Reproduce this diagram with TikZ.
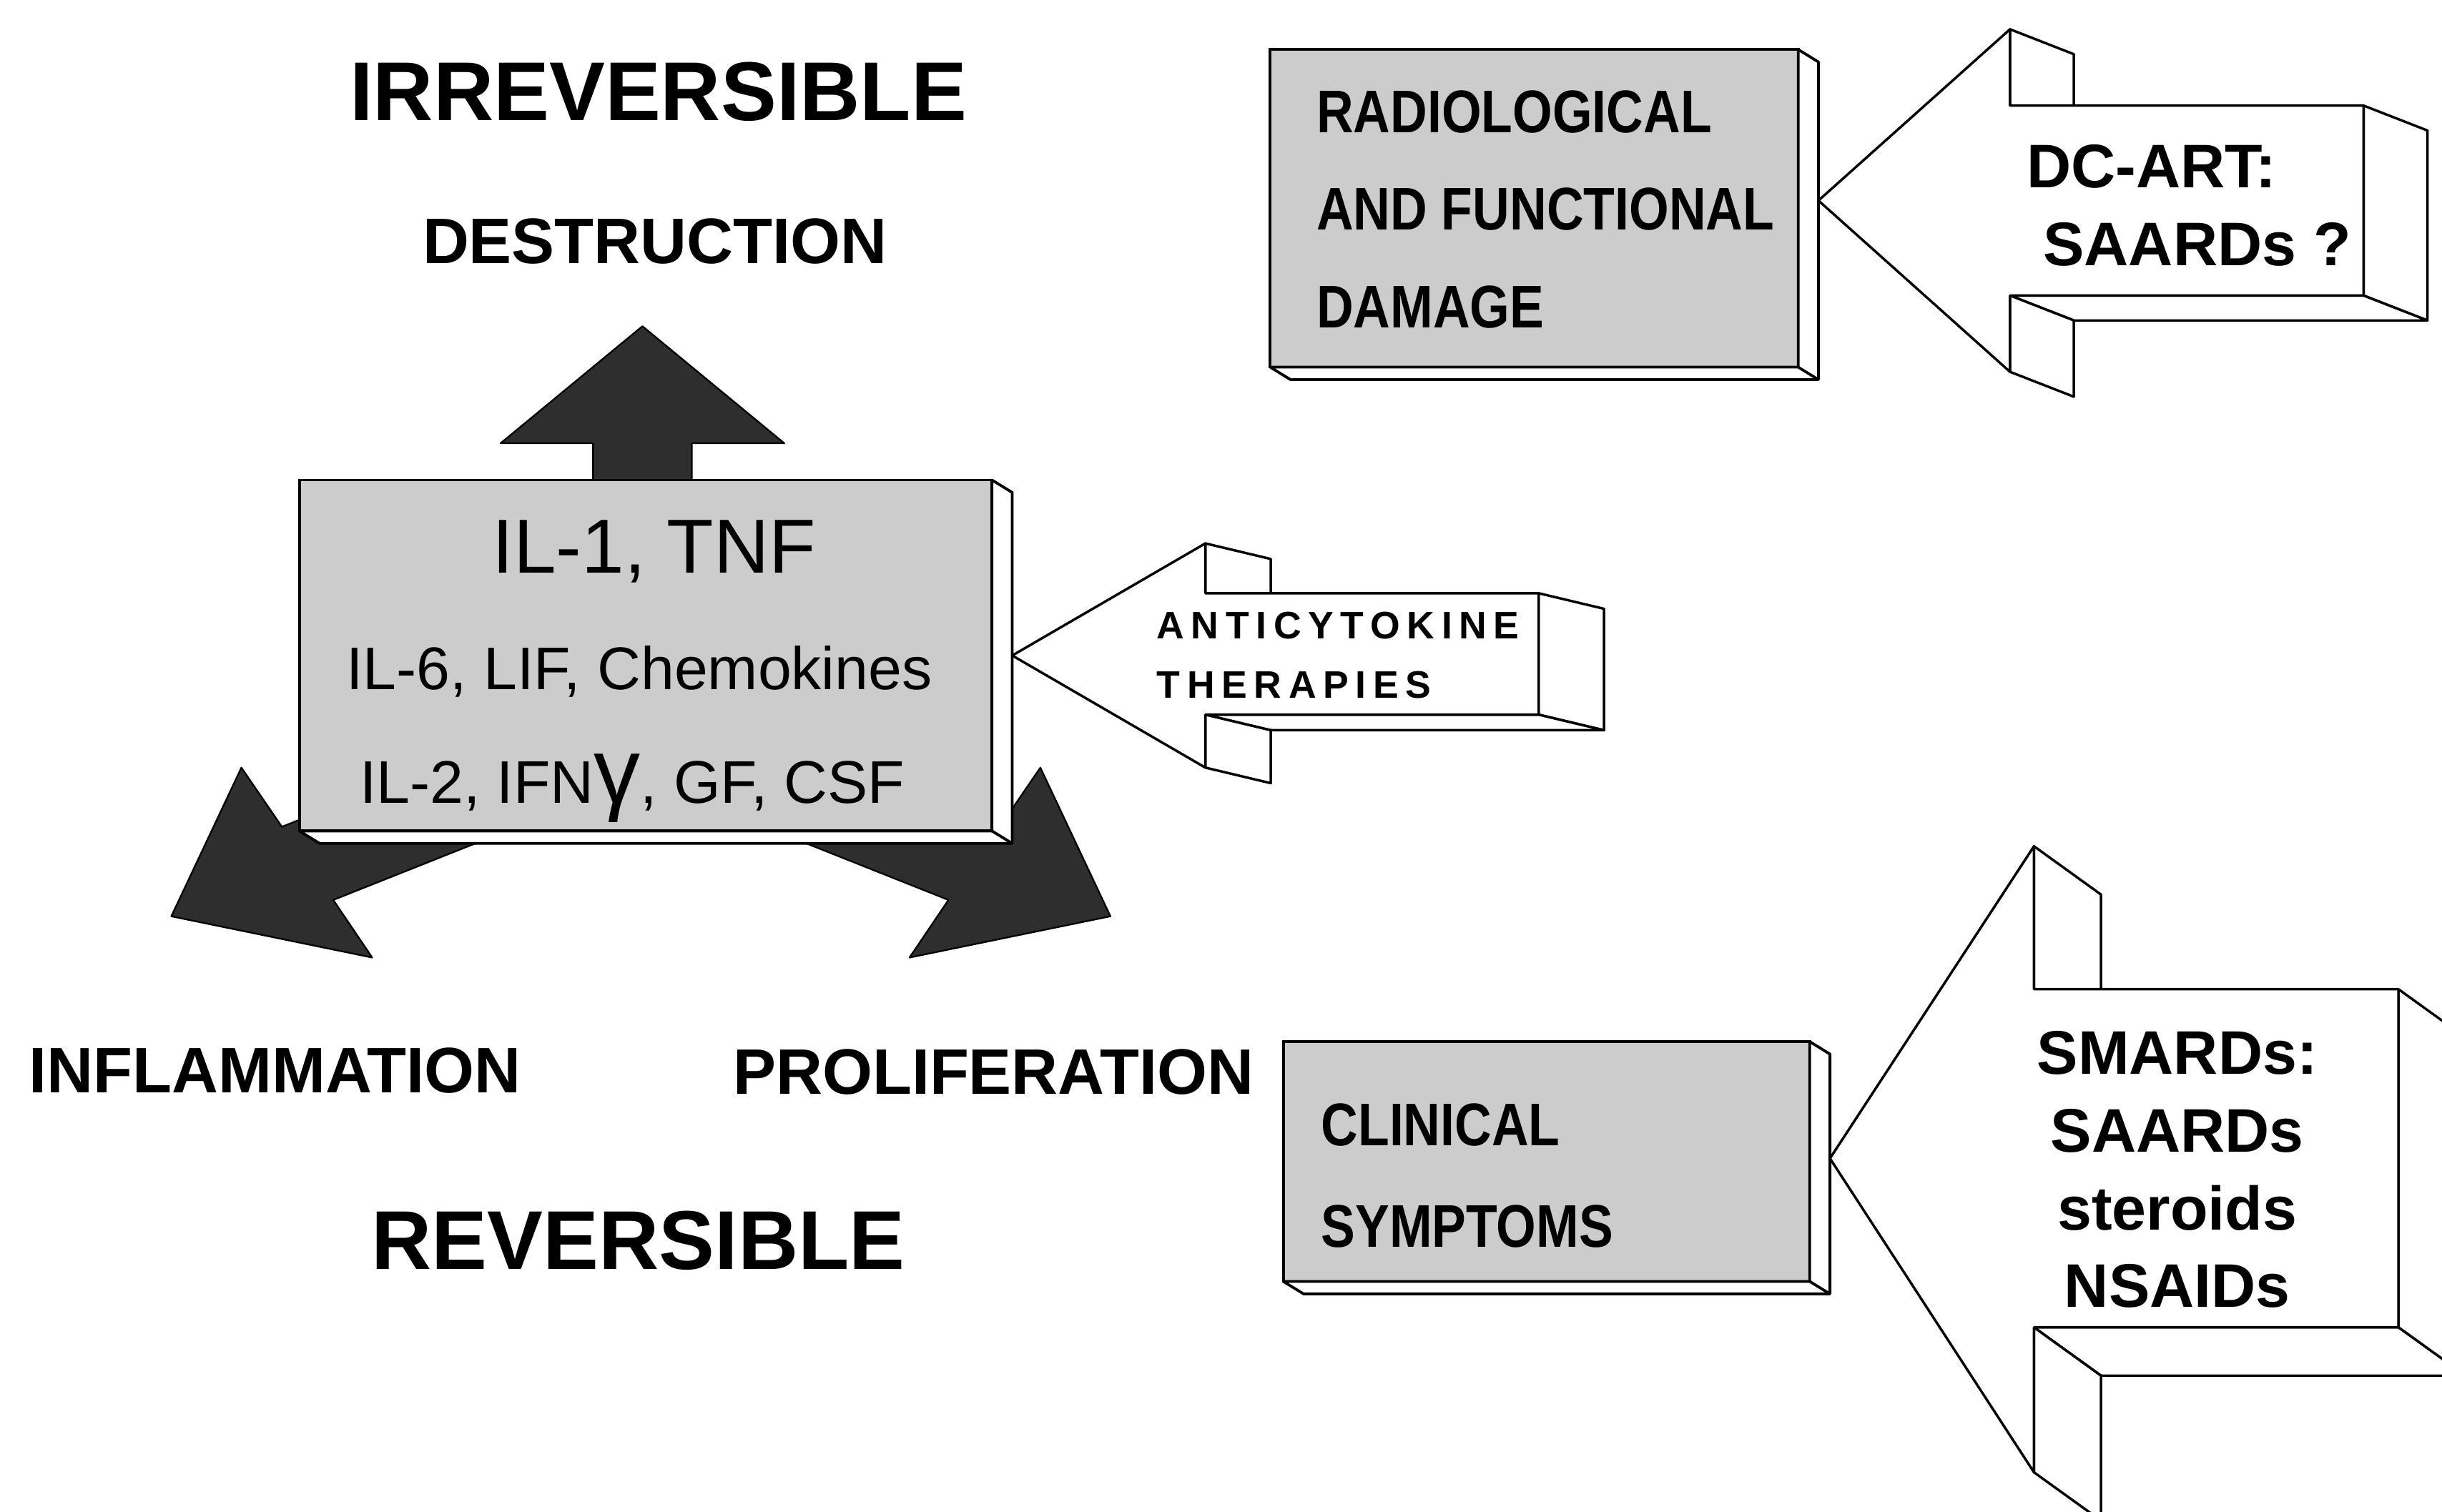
\documentclass[tikz,border=0pt]{standalone}
\usepackage{fontspec}
\setmainfont{Liberation Sans}
\newfontfamily\condfont[FakeStretch=0.85]{Liberation Sans}
\newfontfamily\spacedfont[LetterSpace=18]{Liberation Sans}
\usepackage{tikz}
\usetikzlibrary{positioning}
\usetikzlibrary{calc}

\begin{document}
\begin{tikzpicture}[x=0.2mm, y=-0.2mm]
    % \draw (0,0) grid (1568,971);

  \def\dx{13}
  \def\dy{8}
  \tikzset{box front/.style={draw, line width=1pt, fill=black!20, outer sep=0pt, inner sep=0pt}}
  \tikzset{box side/.style={draw, line width=1pt, fill=white, line join=round}}
  \tikzset{dark arrow/.style={draw, line width=0.6pt, fill=black!82, line join=round}}
  \tikzset{block arrow/.style={draw, line width=0.9pt, fill=white, line join=round}}
  \tikzset{title text/.style={anchor=base, inner sep=0pt, font=\bfseries\fontsize{30.5}{36}\selectfont}}
  \tikzset{label text/.style={anchor=base, inner sep=0pt, font=\bfseries\fontsize{23.5}{28}\selectfont}}
  \tikzset{cyto text/.style={anchor=base, inner sep=0pt, font=\fontsize{22}{26}\selectfont}}
  \tikzset{box text/.style={anchor=north west, inner sep=0pt, align=left, font=\condfont\bfseries\fontsize{22}{35.6}\selectfont}}
  \tikzset{drug text/.style={inner sep=0pt, font=\bfseries\fontsize{22.5}{28.4}\selectfont}}

  \useasboundingbox (0,0) rectangle (1568,971);
  \clip (0,0) rectangle (1568,971);

  % left column labels
  \node[title text] (irrev) at (422.7,77.3) {IRREVERSIBLE};
  \node[label text] (destr) at (420.5,169) {DESTRUCTION};
  \node[label text] (infl) at (176.6,701.7) {INFLAMMATION};
  \node[label text] (prolif) at (637.8,702.5) {PROLIFERATION};
  \node[title text] (rev) at (409.8,815) {REVERSIBLE};

  % dark arrows, they go under the box
  \draw[dark arrow] (380.8,335) -- (380.8,284.7) -- (321.4,284.7) -- (412.5,209.5)
    -- (503.6,284.7) -- (444.2,284.7) -- (444.2,335) -- cycle;
  \draw[dark arrow] (400,504) -- (214,578) -- (239,615) -- (110,588.5) -- (155,493)
    -- (181,531) -- (367,457) -- cycle;
  \draw[dark arrow] (423,504) -- (609,578) -- (584,615) -- (713,588.5) -- (668,493)
    -- (642,531) -- (456,457) -- cycle;

  % cytokine box
  \node[box front, minimum width=8.894cm, minimum height=4.508cm] (cyto) at (414.6,421) {};
  \draw[box side] (cyto.north east) -- ++(\dx,\dy) -- ($(cyto.south east)+(\dx,\dy)$)
    -- ($(cyto.south west)+(\dx,\dy)$) -- (cyto.south west) -- (cyto.south east) -- cycle;
  \draw[line width=1pt] (cyto.south east) -- ++(\dx,\dy);
  \node[cyto text, font=\fontsize{28}{32}\selectfont] (il1) at ($(cyto.center)+(5.4,-53)$) {IL-1, TNF};
  \node[cyto text] (il6) at ($(cyto.center)+(-4.1,22)$) {IL-6, LIF, Chemokines};
  \node[cyto text] (il2) at ($(cyto.center)+(-8.6,94.7)$) {IL-2, IFN{\fontsize{34}{34}\selectfont γ}, GF, CSF};

  % damage box
  \node[box front, minimum width=6.78cm, minimum height=4.08cm] (damage) at (985.1,133.8) {};
  \draw[box side] (damage.north east) -- ++(\dx,\dy) -- ($(damage.south east)+(\dx,\dy)$)
    -- ($(damage.south west)+(\dx,\dy)$) -- (damage.south west) -- (damage.south east) -- cycle;
  \draw[line width=1pt] (damage.south east) -- ++(\dx,\dy);
  \node[box text] (damage text) at ($(damage.north west)+(29.4,26.1)$) {RADIOLOGICAL\\AND FUNCTIONAL\\DAMAGE};

  % symptoms box
  \node[box front, minimum width=6.76cm, minimum height=3.08cm] (symptoms) at (993,746) {};
  \draw[box side] (symptoms.north east) -- ++(\dx,\dy) -- ($(symptoms.south east)+(\dx,\dy)$)
    -- ($(symptoms.south west)+(\dx,\dy)$) -- (symptoms.south west) -- (symptoms.south east) -- cycle;
  \draw[line width=1pt] (symptoms.south east) -- ++(\dx,\dy);
  \node[box text, font=\condfont\bfseries\fontsize{22}{36.9}\selectfont] (symptoms text)
    at ($(symptoms.north west)+(24,39.6)$) {CLINICAL\\SYMPTOMS};

  % anticytokine arrow
  \coordinate (a tip) at ($(cyto.east)+(\dx,0)$);
  \coordinate (a ht) at ($(a tip)+(124,-72)$);
  \coordinate (a st) at ($(a tip)+(124,-40)$);
  \coordinate (a str) at ($(a tip)+(338,-40)$);
  \coordinate (a sbr) at ($(a tip)+(338,38)$);
  \coordinate (a sb) at ($(a tip)+(124,38)$);
  \coordinate (a hb) at ($(a tip)+(124,72)$);
  \draw[block arrow] (a str) -- ++(42,10) -- ($(a sbr)+(42,10)$) -- (a sbr) -- cycle;
  \draw[block arrow] (a sb) -- (a sbr) -- ++(42,10) -- ($(a sb)+(42,10)$) -- cycle;
  \draw[block arrow] (a sb) -- (a hb) -- ++(42,10) -- ($(a sb)+(42,10)$) -- cycle;
  \draw[block arrow] (a ht) -- ++(42,10) -- ($(a st)+(42,10)$) -- (a st) -- cycle;
  \draw[block arrow] (a tip) -- (a ht) -- (a st) -- (a str) -- (a sbr) -- (a sb) -- (a hb) -- cycle;
  \node[anchor=north west, inner sep=0pt, align=left, font=\spacedfont\bfseries\fontsize{14}{21.7}\selectfont]
    (anti text) at (742.4,392.6) {ANTICYTOKINE\\THERAPIES};

  % DC-ART arrow
  \coordinate (d tip) at ($(damage.east)+(\dx,-5)$);
  \coordinate (d ht) at ($(d tip)+(123,-110)$);
  \coordinate (d st) at ($(d tip)+(123,-61)$);
  \coordinate (d str) at ($(d tip)+(350,-61)$);
  \coordinate (d sbr) at ($(d tip)+(350,61)$);
  \coordinate (d sb) at ($(d tip)+(123,61)$);
  \coordinate (d hb) at ($(d tip)+(123,110)$);
  \draw[block arrow] (d str) -- ++(41,16) -- ($(d sbr)+(41,16)$) -- (d sbr) -- cycle;
  \draw[block arrow] (d sb) -- (d sbr) -- ++(41,16) -- ($(d sb)+(41,16)$) -- cycle;
  \draw[block arrow] (d sb) -- (d hb) -- ++(41,16) -- ($(d sb)+(41,16)$) -- cycle;
  \draw[block arrow] (d ht) -- ++(41,16) -- ($(d st)+(41,16)$) -- (d st) -- cycle;
  \draw[block arrow] (d tip) -- (d ht) -- (d st) -- (d str) -- (d sbr) -- (d sb) -- (d hb) -- cycle;
  \node[drug text, anchor=north west, align=left] (dcart text) at (1301,92.7) {DC-ART:\\\hspace*{6pt}SAARDs ?};

  % SMARDs arrow
  \coordinate (s tip) at ($(symptoms.east)+(\dx,-2)$);
  \coordinate (s ht) at ($(s tip)+(131,-200.5)$);
  \coordinate (s st) at ($(s tip)+(131,-108.7)$);
  \coordinate (s str) at ($(s tip)+(365,-108.7)$);
  \coordinate (s sbr) at ($(s tip)+(365,108.5)$);
  \coordinate (s sb) at ($(s tip)+(131,108.5)$);
  \coordinate (s hb) at ($(s tip)+(131,201.6)$);
  \draw[block arrow] (s str) -- ++(43,31) -- ($(s sbr)+(43,31)$) -- (s sbr) -- cycle;
  \draw[block arrow] (s sb) -- (s sbr) -- ++(43,31) -- ($(s sb)+(43,31)$) -- cycle;
  \draw[block arrow] (s sb) -- (s hb) -- ++(43,31) -- ($(s sb)+(43,31)$) -- cycle;
  \draw[block arrow] (s ht) -- ++(43,31) -- ($(s st)+(43,31)$) -- (s st) -- cycle;
  \draw[block arrow] (s tip) -- (s ht) -- (s st) -- (s str) -- (s sbr) -- (s sb) -- (s hb) -- cycle;
  \node[drug text, anchor=north, align=center] (smards text) at (1398,662) {SMARDs:\\SAARDs\\steroids\\NSAIDs};
\end{tikzpicture}
\end{document}
